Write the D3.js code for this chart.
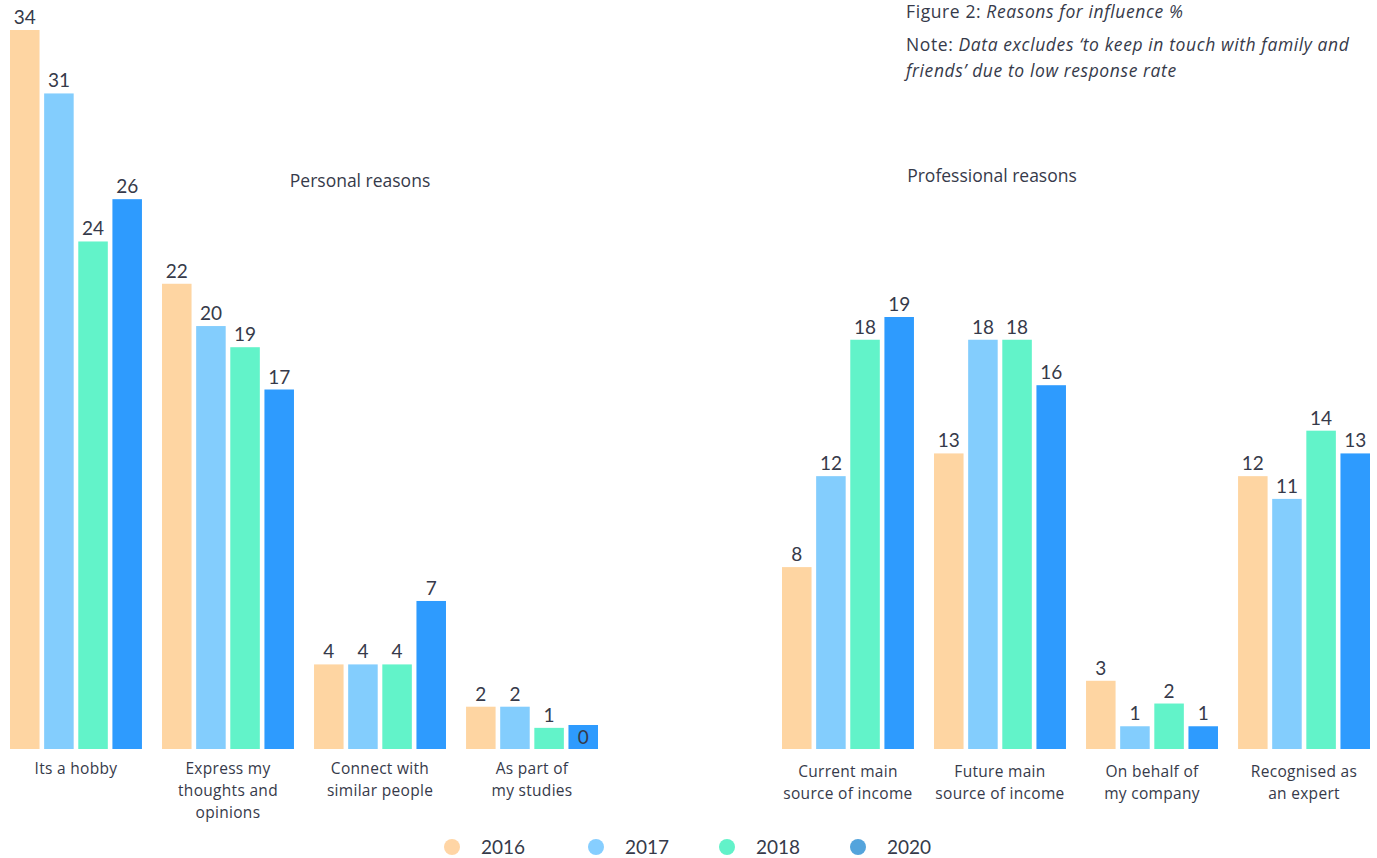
<!DOCTYPE html>
<html>
<head>
<meta charset="utf-8">
<script src="https://cdn.jsdelivr.net/npm/d3@7"></script>
<style>
  html, body { margin: 0; padding: 0; background: #ffffff; }
  svg { display: block; font-family: "Open Sans", Lato, sans-serif; }
</style>
</head>
<body>
<svg id="chart" width="1377" height="858"></svg>
<script>
// Survey years (series)
const years = ["2016", "2017", "2018", "2020"];
const barColors = ["#fed5a2", "#83cdfd", "#62f3c9", "#2e9bfe"];
const legendColors = ["#ffd5a5", "#86ceff", "#62f2c9", "#54a4dc"];

// Personal reasons
const personalCategories = [
  ["Its a hobby"],
  ["Express my", "thoughts and", "opinions"],
  ["Connect with", "similar people"],
  ["As part of", "my studies"]
];
const personal2016 = [34, 22, 4, 2];
const personal2017 = [31, 20, 4, 2];
const personal2018 = [24, 19, 4, 1];
const personal2020 = [26, 17, 7, 0];

// Professional reasons
const professionalCategories = [
  ["Current main", "source of income"],
  ["Future main", "source of income"],
  ["On behalf of", "my company"],
  ["Recognised as", "an expert"]
];
const professional2016 = [8, 13, 3, 12];
const professional2017 = [12, 18, 1, 11];
const professional2018 = [18, 18, 2, 14];
const professional2020 = [19, 16, 1, 13];

const textColor = "#363a4a";
const svg = d3.select("#chart");

function drawPanel(opts) {
  const { categories, series, x0Range, yDomainMax, yTop, baseline, title, titleX, titleY, labelY } = opts;
  const idx = d3.range(categories.length);

  const x0 = d3.scaleBand().domain(idx).range(x0Range).paddingInner(0.132).paddingOuter(0);
  const x1 = d3.scaleBand().domain(years).range([0, x0.bandwidth()]).paddingInner(0.135).paddingOuter(0);
  const y = d3.scaleLinear().domain([0, yDomainMax]).range([baseline, yTop]);

  const g = svg.append("g");

  const groups = g.selectAll("g.group")
    .data(idx)
    .join("g")
    .attr("class", "group")
    .attr("transform", i => `translate(${x0(i)},0)`);

  const cells = groups.selectAll("g.cell")
    .data(i => years.map((yr, k) => ({ yr, k, v: series[k][i] })))
    .join("g")
    .attr("class", "cell");

  cells.append("rect")
    .attr("x", d => x1(d.yr))
    .attr("width", x1.bandwidth())
    .attr("y", d => y(d.v))
    .attr("height", d => y(0) - y(d.v))
    .attr("fill", d => barColors[d.k]);

  // Zero values get a small badge so the label stays readable
  cells.filter(d => d.v === 0)
    .append("rect")
    .attr("x", d => x1(d.yr))
    .attr("width", x1.bandwidth())
    .attr("y", y(0) - 24)
    .attr("height", 24)
    .attr("fill", d => barColors[d.k]);

  cells.append("text")
    .attr("x", d => x1(d.yr) + x1.bandwidth() / 2)
    .attr("y", d => d.v === 0 ? y(0) - 5 : y(d.v) - 6)
    .attr("text-anchor", "middle")
    .attr("font-family", "Lato, sans-serif")
    .attr("font-size", 19)
    .attr("fill", textColor)
    .text(d => d.v);

  // Category labels (multi-line)
  const lab = g.selectAll("text.cat")
    .data(idx)
    .join("text")
    .attr("class", "cat")
    .attr("x", i => x0(i) + x0.bandwidth() / 2)
    .attr("y", labelY)
    .attr("text-anchor", "middle")
    .attr("font-size", 15.5)
    .attr("letter-spacing", 0.3)
    .attr("fill", textColor);
  lab.selectAll("tspan")
    .data(i => categories[i])
    .join("tspan")
    .attr("x", function () { return d3.select(this.parentNode).attr("x"); })
    .attr("dy", (d, j) => j === 0 ? 0 : 22)
    .text(d => d);

  g.append("text")
    .attr("x", titleX)
    .attr("y", titleY)
    .attr("text-anchor", "middle")
    .attr("font-size", 17.5)
    .attr("fill", textColor)
    .text(title);
}

drawPanel({
  categories: personalCategories,
  series: [personal2016, personal2017, personal2018, personal2020],
  x0Range: [10, 598],
  yDomainMax: 34,
  yTop: 30,
  baseline: 749,
  title: "Personal reasons",
  titleX: 360,
  titleY: 187,
  labelY: 774
});

drawPanel({
  categories: professionalCategories,
  series: [professional2016, professional2017, professional2018, professional2020],
  x0Range: [782, 1370],
  yDomainMax: 19,
  yTop: 317,
  baseline: 749,
  title: "Professional reasons",
  titleX: 992,
  titleY: 182,
  labelY: 777
});

// Figure heading and note
const head = svg.append("g").attr("font-size", 17.5).attr("letter-spacing", 0.6).attr("fill", textColor);
const t1 = head.append("text").attr("x", 906).attr("y", 18);
t1.append("tspan").text("Figure 2: ");
t1.append("tspan").attr("font-style", "italic").text("Reasons for influence %");
const t2 = head.append("text").attr("x", 906).attr("y", 51);
t2.append("tspan").text("Note: ");
t2.append("tspan").attr("font-style", "italic").text("Data excludes \u2018to keep in touch with family and");
head.append("text").attr("x", 906).attr("y", 77).attr("font-style", "italic")
  .text("friends\u2019 due to low response rate");

// Legend
const legendPos = { "2016": 452, "2017": 596, "2018": 727, "2020": 858 };
const leg = svg.append("g").selectAll("g")
  .data(years)
  .join("g")
  .attr("transform", d => `translate(${legendPos[d]},847)`);
leg.append("circle").attr("r", 8).attr("fill", (d, i) => legendColors[i]);
leg.append("text")
  .attr("x", 29)
  .attr("y", 7)
  .attr("font-family", "Lato, sans-serif")
  .attr("font-size", 19)
  .attr("fill", textColor)
  .text(d => d);
</script>
</body>
</html>
